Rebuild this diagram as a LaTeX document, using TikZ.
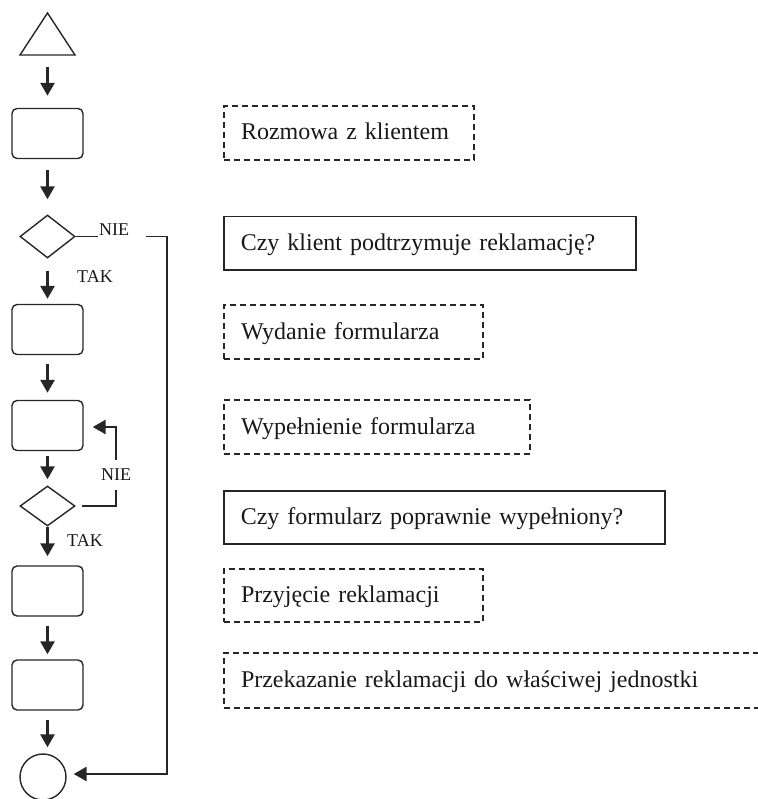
\documentclass[tikz,border=0pt]{standalone}
\usepackage{fontspec}
\setmainfont{Liberation Serif}
\usetikzlibrary{shapes.geometric,arrows.meta}
\begin{document}
\begin{tikzpicture}[x=1pt,y=-1pt,
  ink/.style={draw=black!85},
  lbox/.style={ink, rounded corners=5pt, line width=1.4pt, minimum width=71pt, minimum height=50pt, inner sep=0pt},
  dec/.style={ink, diamond, line width=1.4pt, minimum width=55pt, inner sep=0pt},
  endc/.style={ink, circle, line width=1.4pt, minimum size=46pt, inner sep=0pt},
  arr/.style={draw=black!85, line width=2.6pt, -{Triangle[length=13pt,width=14pt]}},
  thinl/.style={draw=black!85, line width=1.3pt},
  desc/.style={anchor=north west, inner xsep=17pt, inner ysep=0pt, align=left,
    font=\fontsize{24}{28}\selectfont, text=black!90, text height=18pt, text depth=4pt},
  dbox/.style={desc, draw=black!85, line width=2pt, dash pattern=on 6pt off 4pt},
  sbox/.style={desc, draw=black!85, line width=1.5pt},
  lab/.style={font=\fontsize{18}{20}\selectfont, text=black!90, inner sep=0pt, anchor=base west},
]
\useasboundingbox (0,0) rectangle (757,799);

% left column
\draw[ink, line width=1.4pt, line join=miter] (20,55) -- (47.5,13) -- (75,55) -- cycle;
\coordinate (t) at (47.5,55);
\node[lbox] (b1) at (47.5,133.5) {};
\node[dec, minimum height=43pt] (d1) at (47.5,236.5) {};
\node[lbox] (b2) at (47.5,329.5) {};
\node[lbox] (b3) at (47.5,425.5) {};
\node[dec, minimum height=40pt] (d2) at (47.5,506) {};
\node[lbox] (b4) at (47.5,591) {};
\node[lbox] (b5) at (47.5,685) {};
\node[endc] (e) at (43,777) {};

\draw[arr, shorten <=12pt, shorten >=12pt] (t) -- (b1);
\draw[arr, shorten <=11pt, shorten >=15pt] (b1) -- (d1);
\draw[arr, shorten <=12pt, shorten >=5pt] (d1) -- (b2);
\draw[arr, shorten <=9pt, shorten >=7pt] (b2) -- (b3);
\draw[arr, shorten <=5pt, shorten >=6pt] (b3) -- (d2);
\draw[arr, shorten >=9pt] (d2) -- (b4);
\draw[arr, shorten <=9pt, shorten >=5pt] (b4) -- (b5);
\draw[arr, shorten <=9pt, shorten >=6pt] (b5.south) -- (b5.south |- e.north);

% NIE branch of first decision
\coordinate (n1s) at (98,236.5);
\draw[thinl] (d1.east) -- (n1s);
\node[lab] (nie1) at (99,235.5) {NIE};
\coordinate (n1a) at (146,236.5);
\coordinate (n1b) at (167,236.5);
\coordinate (n1c) at (167,774);
\draw[thinl] (n1a) -- (n1b) -- (n1c);
\draw[arr, shorten >=7pt] ([xshift=0.65pt]n1c) -- (n1c -| e.east);
\node[lab] (tak1) at (77,282) {TAK};

% NIE loop of second decision
\coordinate (l1) at (82,506);
\coordinate (l2) at (116,506);
\coordinate (l3) at (116,490);
\draw[thinl] (l1) -- (l2) -- (l3);
\node[lab] (nie2) at (101,480) {NIE};
\coordinate (l4) at (116,460);
\coordinate (l5) at (116,427);
\draw[thinl] (l4) -- (l5);
\draw[arr, shorten >=9pt] ([xshift=0.65pt]l5) -- (l5 -| b3.east);
\node[lab] (tak2) at (67,546) {TAK};

% descriptions
\node[dbox, minimum height=54pt, text width=216pt] (r1) at (223,105) {Rozmowa z klientem};
\node[sbox, minimum height=53pt, text width=378pt] (r2) at (223,216) {Czy klient podtrzymuje reklamację?};
\node[dbox, minimum height=54pt, text width=225pt] (r3) at (223,304) {Wydanie formularza};
\node[dbox, minimum height=54pt, text width=272pt] (r4) at (223,399) {Wypełnienie formularza};
\node[sbox, minimum height=53pt, text width=407pt] (r5) at (223,490) {Czy formularz poprawnie wypełniony?};
\node[dbox, minimum height=53pt, text width=225pt] (r6) at (223,568) {Przyjęcie reklamacji};
\node[dbox, minimum height=55pt, text width=526pt] (r7) at (223,652) {Przekazanie reklamacji do właściwej jednostki};
\end{tikzpicture}
\end{document}
